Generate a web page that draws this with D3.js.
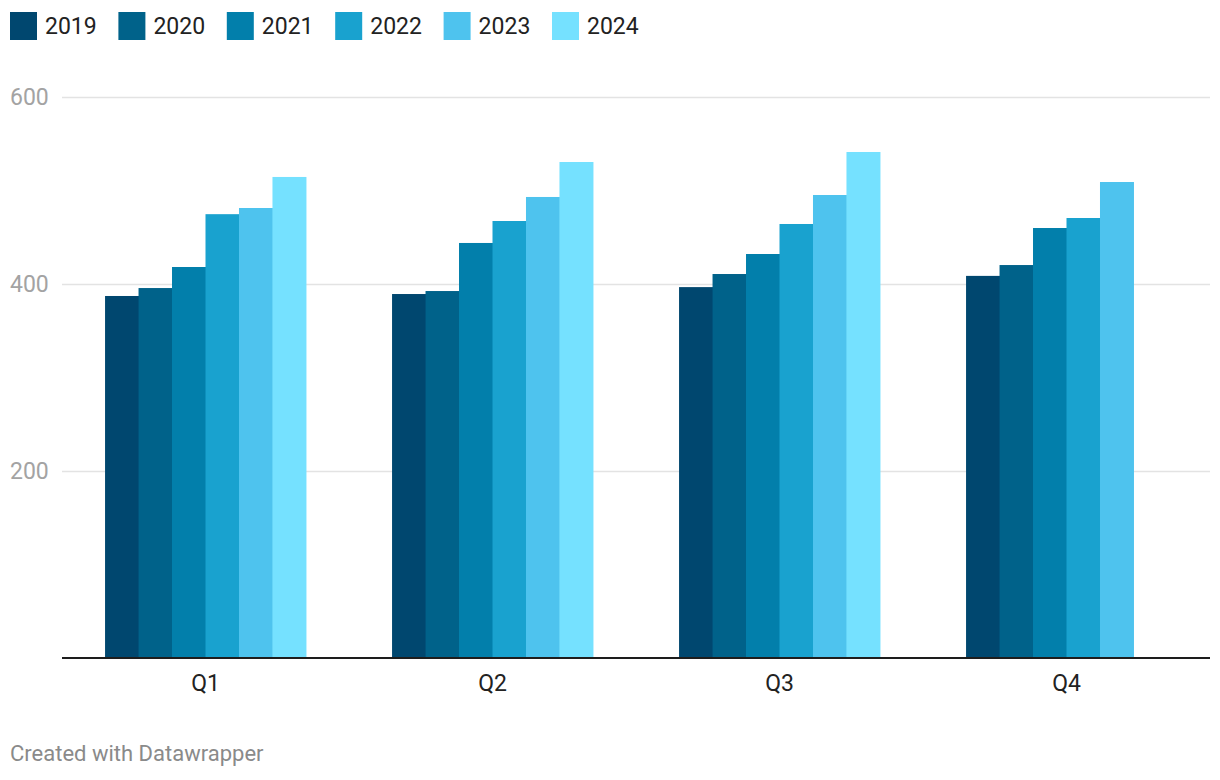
<!DOCTYPE html>
<html>
<head>
<meta charset="utf-8">
<script src="https://cdn.jsdelivr.net/npm/d3@7"></script>
<style>
  html, body { margin: 0; padding: 0; background: #fff; }
  svg { display: block; font-family: Roboto, "Noto Sans", sans-serif; }
</style>
</head>
<body>
<svg id="chart" width="1220" height="780"></svg>
<script>
const quarters = ["Q1", "Q2", "Q3", "Q4"];
const years = ["2019", "2020", "2021", "2022", "2023", "2024"];
const values2019 = [387.5, 389.6, 397, 409];
const values2020 = [396, 392.8, 411, 420.6];
const values2021 = [418.5, 444.2, 432.4, 460.2];
const values2022 = [475, 467.7, 464.5, 470.9];
const values2023 = [481.6, 493.4, 495.5, 509.4];
const values2024 = [514.8, 530.8, 541.5, null];
const yTicks = [200, 400, 600];
const colors = ["#00476f", "#00628a", "#027fab", "#19a2cf", "#4ec3ee", "#75e1ff"];

const series = [values2019, values2020, values2021, values2022, values2023, values2024];

const svg = d3.select("#chart");

const x0 = d3.scaleBand().domain(quarters).range([62, 1210]).paddingInner(0.3).paddingOuter(0.15);
const x1 = d3.scaleBand().domain(years).range([0, x0.bandwidth()]).padding(0);
const y = d3.scaleLinear().domain([0, 600]).range([658.3, 97.3]);

// gridlines
svg.append("g").selectAll("line").data(yTicks).join("line")
  .attr("x1", 62).attr("x2", 1210)
  .attr("y1", d => Math.round(y(d)) + 0.5).attr("y2", d => Math.round(y(d)) + 0.5)
  .attr("stroke", "#e3e3e3").attr("stroke-width", 1.5);

// y labels
svg.append("g").selectAll("text").data(yTicks).join("text")
  .attr("x", 10).attr("y", d => y(d))
  .attr("dy", "0.35em")
  .attr("font-size", 23).attr("fill", "#a3a3a3")
  .text(d => d);

// bars
const groups = svg.append("g").selectAll("g").data(quarters).join("g")
  .attr("transform", d => `translate(${x0(d)},0)`);

groups.selectAll("rect")
  .data((q, qi) => years.map((yr, i) => ({ yr, i, v: series[i][qi] })).filter(d => d.v != null))
  .join("rect")
  .attr("x", d => x1(d.yr))
  .attr("width", x1.bandwidth() + 0.5)
  .attr("y", d => y(d.v))
  .attr("height", d => y(0) - y(d.v))
  .attr("fill", d => colors[d.i]);

// x axis line
svg.append("line")
  .attr("x1", 62).attr("x2", 1210)
  .attr("y1", 658).attr("y2", 658)
  .attr("stroke", "#1d1d1d").attr("stroke-width", 2);

// x labels
svg.append("g").selectAll("text").data(quarters).join("text")
  .attr("x", d => x0(d) + x0.bandwidth() / 2)
  .attr("y", 691)
  .attr("text-anchor", "middle")
  .attr("font-size", 23).attr("fill", "#222")
  .text(d => d);

// legend
const legend = svg.append("g").selectAll("g").data(years).join("g")
  .attr("transform", (d, i) => `translate(${10 + i * 108.4},12)`);
legend.append("rect").attr("width", 27).attr("height", 28).attr("fill", (d, i) => colors[i]);
legend.append("text").attr("x", 35).attr("y", 22).attr("font-size", 23).attr("fill", "#222").text(d => d);

// footer
svg.append("text").attr("x", 10).attr("y", 761)
  .attr("font-size", 22).attr("fill", "#8a8a8a")
  .text("Created with Datawrapper");
</script>
</body>
</html>
